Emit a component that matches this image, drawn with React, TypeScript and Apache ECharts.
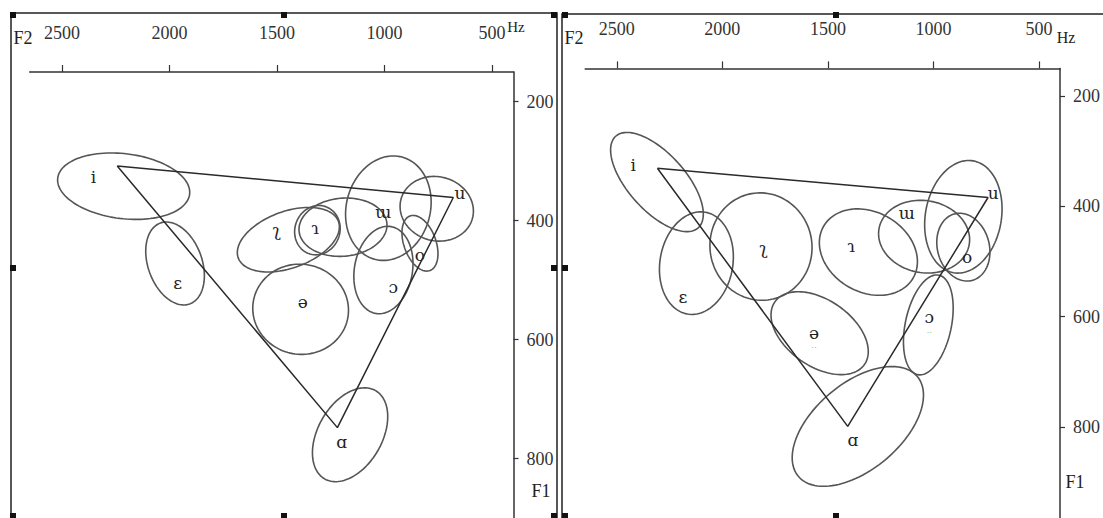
import React, { useEffect, useRef } from "react";
import * as echarts from "echarts";

// ---- data (Hz) ----
const F2_TICKS = [500, 1000, 1500, 2000, 2500];
const F1_TICKS = [200, 400, 600, 800];

// ellipses: [vowel, F2 centre, F1 centre, principal spread (F2 Hz), second spread (F1 Hz), tilt deg]
const LEFT_ELLIPSES: [string, number, number, number, number, number][] = [
  ["i", 2213, 342, 309, 54.6, 7],
  ["ɛ", 1974, 472, 200, 45.4, 70],
  ["ʅ", 1447, 432, 248, 47.6, -20],
  ["ɿ", 1312, 416, 116, 37.8, -70],
  ["ɿ'", 1193, 411, 205, 48.8, -5],
  ["ɯ", 982, 379, 246, 70.6, -75],
  ["u", 757, 380, 172, 53.8, 15],
  ["o", 835, 438, 135, 26.9, 70],
  ["ɔ", 1005, 483, 205, 48.8, -80],
  ["ə", 1390, 549, 223, 75.7, 10],
  ["ɑ", 1160, 760, 237, 53.8, -60],
];
const RIGHT_ELLIPSES: [string, number, number, number, number, number][] = [
  ["i", 2310, 356, 292, 51.7, 48],
  ["ɛ", 2123, 503, 245, 66, -80],
  ["ʅ", 1817, 473, 255, 92.4, 80],
  ["ɿ", 1308, 483, 245, 72.5, 30],
  ["ɯ", 1044, 455, 217, 65.3, 10],
  ["u", 858, 419, 269, 68.9, -80],
  ["o", 858, 474, 163, 47, 75],
  ["ɔ", 1024, 615, 241, 41.7, -78],
  ["ə", 1539, 630, 259, 60, 35],
  ["ɑ", 1358, 799, 368, 78.3, -40],
];

// vowel triangle i - u - ɑ
const LEFT_TRIANGLE: [number, number][] = [[2243, 308], [680, 361], [1219, 748], [2243, 308]];
const RIGHT_TRIANGLE: [number, number][] = [[2308, 331], [741, 384], [1406, 799], [2308, 331]];

// vowel labels: [text, F2, F1]
const LEFT_LABELS: [string, number, number][] = [
  ["i", 2354, 326], ["ɛ", 1962, 504], ["ʅ", 1501, 416], ["ɿ", 1323, 413], ["ɯ", 1006, 385],
  ["u", 649, 354], ["o", 835, 458], ["ɔ", 959, 511], ["ə", 1380, 536], ["ɑ", 1199, 772],
];
const RIGHT_LABELS: [string, number, number][] = [
  ["i", 2423, 325], ["ɛ", 2187, 564], ["ʅ", 1805, 476], ["ɿ", 1390, 472], ["ɯ", 1126, 413],
  ["u", 717, 376], ["o", 840, 491], ["ɔ", 1019, 601], ["ə", 1566, 629], ["ɑ", 1381, 824],
];
// small green diacritic dots
const RIGHT_DOTS: [string, number, number][] = [["··", 1566, 655], ["··", 1019, 627]];

const SERIF = "Liberation Serif";
const IPA_FONT = "DejaVu Serif";

function ellipseSeries(rows: [string, number, number, number, number, number][], idx: number) {
  return {
    type: "custom",
    xAxisIndex: idx,
    yAxisIndex: idx,
    silent: true,
    data: rows.map((r) => [r[1], r[2], r[3], r[4], r[5]]),
    encode: { x: 0, y: 1 },
    renderItem: (params: any, api: any) => {
      const c = api.coord([api.value(0), api.value(1)]);
      const a = Math.abs(api.size([api.value(2), 0])[0]);
      const b = Math.abs(api.size([0, api.value(3)])[1]);
      const phi = (api.value(4) * Math.PI) / 180;
      const pts: number[][] = [];
      const n = 120;
      for (let k = 0; k < n; k++) {
        const t = (2 * Math.PI * k) / n;
        const ex = a * Math.cos(t);
        const ey = b * Math.sin(t);
        pts.push([
          c[0] + ex * Math.cos(phi) - ey * Math.sin(phi),
          c[1] + ex * Math.sin(phi) + ey * Math.cos(phi),
        ]);
      }
      return {
        type: "polygon",
        shape: { points: pts },
        style: { fill: "none", stroke: "#555", lineWidth: 1.6 },
      };
    },
  };
}

function labelSeries(rows: [string, number, number][], idx: number, color: string, size: number, font: string) {
  return {
    type: "custom",
    xAxisIndex: idx,
    yAxisIndex: idx,
    silent: true,
    data: rows.map((r) => [r[1], r[2]]),
    encode: { x: 0, y: 1 },
    renderItem: (params: any, api: any) => {
      const c = api.coord([api.value(0), api.value(1)]);
      return {
        type: "text",
        x: c[0],
        y: c[1],
        style: {
          text: rows[params.dataIndex][0],
          fill: color,
          fontSize: size,
          fontFamily: font,
          align: "center",
          verticalAlign: "middle",
        },
      };
    },
  };
}

function triSeries(pts: [number, number][], idx: number) {
  return {
    type: "line",
    xAxisIndex: idx,
    yAxisIndex: idx,
    silent: true,
    data: pts,
    symbol: "none",
    lineStyle: { color: "#2a2a2a", width: 1.5 },
  };
}

const axisText = { color: "#333", fontSize: 18, fontFamily: SERIF, formatter: (v: number) => String(v) };

function xAxisCfg(idx: number) {
  return {
    type: "value",
    gridIndex: idx,
    position: "top",
    inverse: true,
    min: 400,
    max: 2650,
    axisLine: { show: true, onZero: false, lineStyle: { color: "#333", width: 1.5 } },
    axisTick: { show: true, length: 7, customValues: F2_TICKS, lineStyle: { color: "#333", width: 1.2 } },
    axisLabel: { customValues: F2_TICKS, margin: 30, ...axisText },
    splitLine: { show: false },
  };
}

function yAxisCfg(idx: number, max: number) {
  return {
    type: "value",
    gridIndex: idx,
    position: "right",
    inverse: true,
    min: 150,
    max,
    axisLine: { show: true, onZero: false, lineStyle: { color: "#333", width: 1.5 } },
    axisTick: { show: true, length: 5, customValues: F1_TICKS, lineStyle: { color: "#333", width: 1.2 } },
    axisLabel: { customValues: F1_TICKS, margin: 13, ...axisText },
    splitLine: { show: false },
  };
}

function handle(x: number, y: number) {
  return { type: "rect", shape: { x, y, width: 6, height: 6 }, style: { fill: "#111" }, silent: true };
}

function txt(text: string, x: number, y: number, size: number) {
  return {
    type: "text",
    x,
    y,
    silent: true,
    style: { text, fill: "#222", fontSize: size, fontFamily: SERIF, align: "center", verticalAlign: "middle" },
  };
}

export default function App() {
  const ref = useRef<HTMLDivElement>(null);
  useEffect(() => {
    if (!ref.current) return;
    const chart = echarts.init(ref.current, undefined, { renderer: "svg" });
    chart.setOption({
      animation: false,
      backgroundColor: "#fff",
      grid: [
        { left: 29.7, right: 589.5, top: 72, bottom: 0 },
        { left: 585.2, right: 40.8, top: 68.4, bottom: 0 },
      ],
      xAxis: [xAxisCfg(0), xAxisCfg(1)],
      yAxis: [yAxisCfg(0, 900), yAxisCfg(1, 965)],
      series: [
        ellipseSeries(LEFT_ELLIPSES, 0),
        ellipseSeries(RIGHT_ELLIPSES, 1),
        triSeries(LEFT_TRIANGLE, 0),
        triSeries(RIGHT_TRIANGLE, 1),
        labelSeries(LEFT_LABELS, 0, "#222", 17, IPA_FONT),
        labelSeries(RIGHT_LABELS, 1, "#222", 17, IPA_FONT),
        labelSeries(RIGHT_DOTS, 1, "#5cb85c", 9, SERIF),
      ],
      graphic: [
        { type: "rect", silent: true, shape: { x: 11, y: 13, width: 546, height: 530 }, style: { fill: "none", stroke: "#222", lineWidth: 1.5 } },
        { type: "rect", silent: true, shape: { x: 562, y: 14, width: 560, height: 530 }, style: { fill: "none", stroke: "#222", lineWidth: 1.5 } },
        handle(10, 12), handle(281, 12), handle(551, 12),
        handle(10, 265), handle(551, 265),
        handle(10, 513), handle(281, 513), handle(551, 513),
        handle(562, 12), handle(833, 12), handle(562, 265),
        handle(562, 513), handle(833, 513),
        txt("F2", 23, 38, 18),
        txt("Hz", 516, 27, 15),
        txt("F1", 541, 491, 18),
        txt("F2", 574, 38, 18),
        txt("Hz", 1066, 37, 16),
        txt("F1", 1075, 482, 18),
      ],
    });
    return () => chart.dispose();
  }, []);
  return <div ref={ref} style={{ position: "absolute", left: 0, top: 0, width: 1103, height: 518 }} />;
}
